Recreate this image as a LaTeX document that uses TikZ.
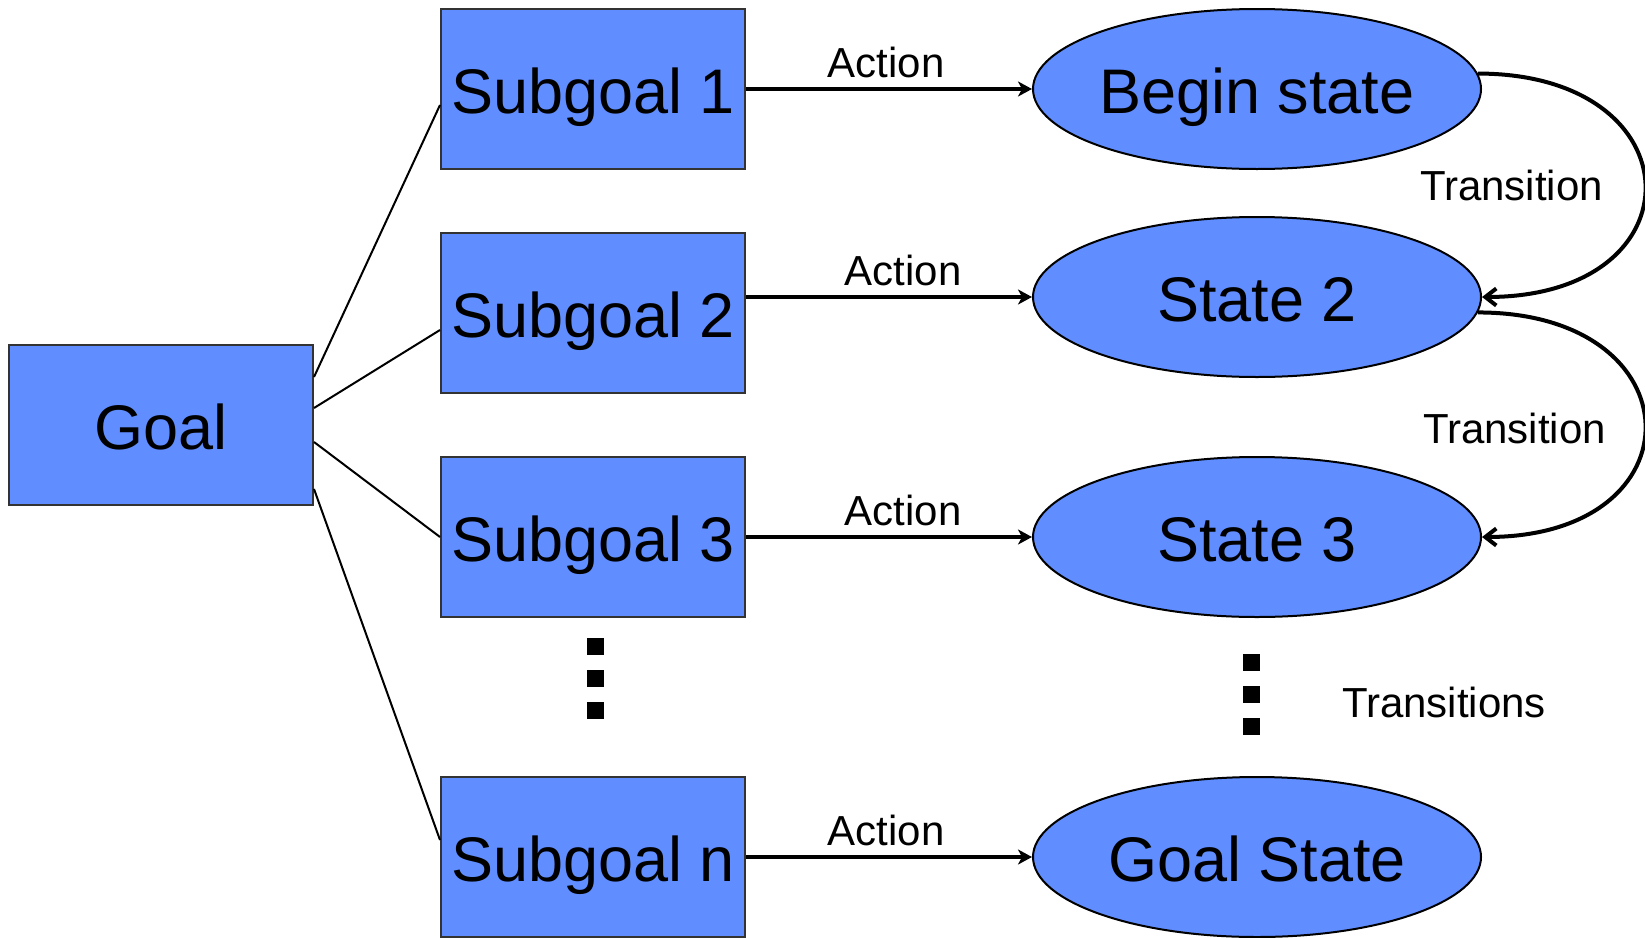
\documentclass[tikz,border=0pt]{standalone}
\usepackage{fontspec}
\setmainfont{Liberation Sans}
\usetikzlibrary{shapes.geometric,arrows.meta}
\definecolor{boxblue}{RGB}{96,141,255}
\begin{document}
\begin{tikzpicture}[x=1pt,y=-1pt,
  big/.style={font=\fontsize{63}{70}\selectfont, text height=60pt, text depth=12pt},
  box/.style={big, draw=black!80, line width=2pt, fill=boxblue, minimum width=304pt,
    minimum height=160pt, inner sep=0pt},
  st/.style={big, ellipse, draw=black, line width=2pt, fill=boxblue, minimum width=448pt,
    minimum height=160pt, inner sep=0pt},
  lbl/.style={inner sep=0pt, font=\fontsize{42}{48}\selectfont},
  act/.style={line width=4pt, -{Stealth[length=14pt,width=15pt,inset=4pt]}},
  trans/.style={line width=4pt, -{Straight Barb[length=11pt,width=17pt]}},
  link/.style={line width=2pt},
  dotsq/.style={fill=black, minimum size=17pt, inner sep=0pt}]
\useasboundingbox (0,0) rectangle (1645,937);

% goal and subgoals
\node[box] (goal) at (161,425) {Goal};
\node[box] (sg1) at (593,89)  {Subgoal 1};
\node[box] (sg2) at (593,313) {Subgoal 2};
\node[box] (sg3) at (593,537) {Subgoal 3};
\node[box] (sgn) at (593,857) {Subgoal n};

% states
\node[st] (st1) at (1257,89)  {Begin state};
\node[st] (st2) at (1257,297) {State 2};
\node[st] (st3) at (1257,537) {State 3};
\node[st] (stn) at (1257,857) {Goal State};

% goal decomposition
\draw[link] ([yshift=48pt]goal.east)  -- ([yshift=-16pt]sg1.west);
\draw[link] ([yshift=17pt]goal.east)  -- ([yshift=-17pt]sg2.west);
\draw[link] ([yshift=-17pt]goal.east) -- (sg3.west);
\draw[link] ([yshift=-64pt]goal.east) -- ([yshift=17pt]sgn.west);

% actions
\draw[act] (sg1.east) -- node[lbl, above=9pt, pos=0.49] (a1) {Action} (st1.west);
\draw[act] (sg2.east |- st2.west) -- node[lbl, above=9pt, pos=0.55] (a2) {Action} (st2.west);
\draw[act] (sg3.east) -- node[lbl, above=9pt, pos=0.55] (a3) {Action} (st3.west);
\draw[act] (sgn.east) -- node[lbl, above=9pt, pos=0.49] (an) {Action} (stn.west);

% transitions
\draw[trans] (st1.4) .. controls +(220,0) and +(220,0) .. node[lbl, pos=0.5, left=40pt] (t1) {Transition} (st2.east);
\draw[trans] (st2.-4) .. controls +(220,0) and +(220,0) .. node[lbl, pos=0.5, left=37pt, yshift=-4pt] (t2) {Transition} (st3.east);
\node[lbl] (tn) at (1444,702) {Transitions};

% ellipsis marks
\node[dotsq] (d1) at (595.5,646.5) {};
\node[dotsq] (d2) at (595.5,678.5) {};
\node[dotsq] (d3) at (595.5,710.5) {};
\node[dotsq] (e1) at (1251.5,662.5) {};
\node[dotsq] (e2) at (1251.5,694.5) {};
\node[dotsq] (e3) at (1251.5,726.5) {};
\end{tikzpicture}
\end{document}
